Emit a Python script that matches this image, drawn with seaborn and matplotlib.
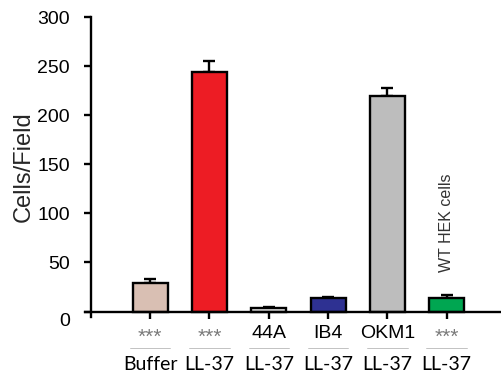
import matplotlib
matplotlib.use("Agg")
import matplotlib.pyplot as plt
import matplotlib.transforms as mtransforms
import numpy as np
import pandas as pd
import seaborn as sns

# Chemotaxis counts per field for each stimulus / cell condition
groups = ["Buffer", "LL-37", "44A LL-37", "IB4 LL-37", "OKM1 LL-37", "WT HEK LL-37"]
top_labels = ["***", "***", "44A", "IB4", "OKM1", "***"]
bottom_labels = ["Buffer", "LL-37", "LL-37", "LL-37", "LL-37", "LL-37"]
cells_per_field = [29, 244, 3.3, 13.5, 220, 14]
sem = [4.5, 11.5, 1.5, 1.3, 8, 3.3]
bar_colors = ["#D9BFB3", "#ED1C24", "#E6E6E6", "#2E3192", "#BDBDBD", "#00A651"]
y_ticks = [0, 50, 100, 150, 200, 250, 300]

sns.set_theme(style="white")
plt.rcParams["font.family"] = ["Liberation Sans", "DejaVu Sans"]

df = pd.DataFrame({"group": groups, "value": cells_per_field})

fig = plt.figure(figsize=(5.02, 3.79), dpi=100)
ax = fig.add_axes([85 / 502, 1 - 317 / 379, (500 - 85) / 502, (317 - 17) / 379])

sns.barplot(data=df, x="group", y="value", hue="group", palette=bar_colors,
            order=groups, hue_order=groups, legend=False, width=0.59,
            saturation=1, edgecolor="black", linewidth=1.7, ax=ax, zorder=2)

# one-sided (upper) error bars
x_pos = np.arange(len(groups))
ax.errorbar(x_pos, cells_per_field, yerr=[np.zeros(len(sem)), sem], fmt="none",
            ecolor="black", elinewidth=1.7, capsize=4, capthick=1.7, zorder=1)

# spines first (moving a spine rebuilds its ticks)
for side in ["top", "right"]:
    ax.spines[side].set_visible(False)
ax.spines["left"].set_color("black")
ax.spines["left"].set_linewidth(1.7)
ax.spines["left"].set_position(("data", -1.0))
ax.spines["bottom"].set_color("black")
ax.spines["bottom"].set_linewidth(1.7)
ax.spines["bottom"].set_position(("data", 0))

ax.set_xlim(-1.1, 5.9)
ax.set_ylim(-5.5, 300)
ax.set_yticks(y_ticks)
ax.set_yticklabels([str(t) for t in y_ticks])
ax.set_xticks(x_pos)
ax.set_xticklabels([])
ax.set_xlabel("")
ax.set_ylabel("Cells/Field", fontsize=17, labelpad=2)

ax.tick_params(axis="y", direction="out", length=5, width=1.7, color="black", pad=10,
               left=True, labelsize=14, labelcolor="black")
ax.tick_params(axis="x", direction="out", length=5, width=1.7, color="black",
               bottom=True)

# drop the "0" label a little below the axis line
zero_lbl = ax.get_yticklabels()[0]
zero_lbl.set_transform(zero_lbl.get_transform() +
                       mtransforms.ScaledTranslation(0, -8 / 100, fig.dpi_scale_trans))

# two-row category labels with a thin rule between them
trans = mtransforms.blended_transform_factory(ax.transData, fig.transFigure)
for x, top, bottom in zip(x_pos, top_labels, bottom_labels):
    if top == "***":
        ax.text(x, 1 - 337 / 379, top, transform=trans, ha="center", va="center",
                fontsize=15, color="#7a7a7a")
    else:
        ax.text(x, 1 - 333 / 379, top, transform=trans, ha="center", va="center",
                fontsize=14, color="black")
    ax.plot([x - 0.34, x + 0.34], [1 - 348 / 379] * 2, transform=trans,
            color="#B8B8B8", lw=0.6, clip_on=False)
    ax.text(x, 1 - 365 / 379, bottom, transform=trans, ha="center", va="center",
            fontsize=14, color="black", family=["Lato", "DejaVu Sans"])

ax.text(5, 90, "WT HEK cells", rotation=90, ha="center", va="center",
        fontsize=11.5, color="#333333")

fig.savefig("out.png", dpi=100)
